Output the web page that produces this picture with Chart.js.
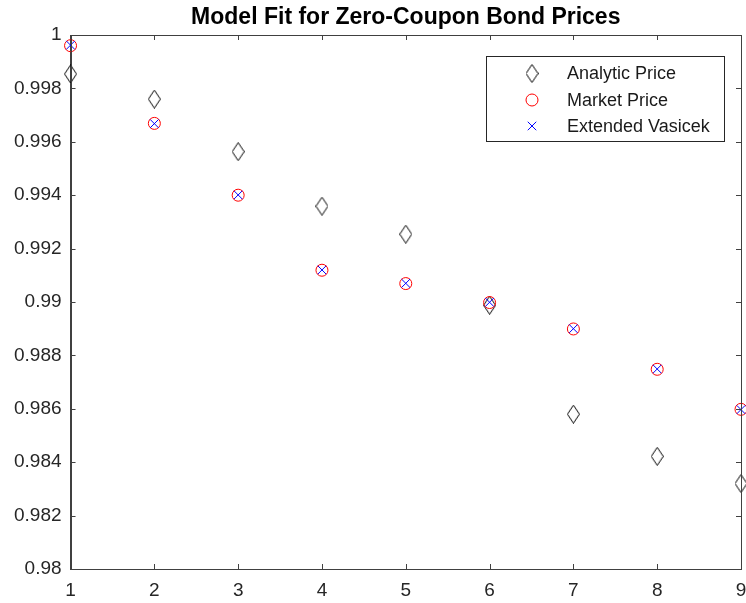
<!DOCTYPE html>
<html>
<head>
<meta charset="utf-8">
<script src="https://cdn.jsdelivr.net/npm/chart.js@4/dist/chart.umd.min.js"></script>
<style>
  html, body { margin: 0; padding: 0; background: #fff; overflow: hidden; }
  /* la figure d'origine est rognée à droite : le "9" et les derniers marqueurs sont coupés */
  #wrap { width: 746px; height: 603px; overflow: hidden; }
</style>
</head>
<body>
<div id="wrap"><canvas id="bondChart" width="751" height="603"></canvas></div>
<script>
// Maturités (années) et prix
const maturities = [1, 2, 3, 4, 5, 6, 7, 8, 9];
const analyticPrice = [0.99854, 0.99760, 0.99563, 0.99359, 0.99254, 0.98988, 0.98580, 0.98422, 0.98320];
const marketPrice = [0.99960, 0.99669, 0.99400, 0.99119, 0.99069, 0.98998, 0.98899, 0.98748, 0.98598];
const extendedVasicek = [0.99962, 0.99668, 0.99401, 0.99120, 0.99070, 0.98999, 0.98900, 0.98749, 0.98597];
const yTicks = [0.98, 0.982, 0.984, 0.986, 0.988, 0.99, 0.992, 0.994, 0.996, 0.998, 1];

const AXIS_COLOR = '#404040';
const FONT = "'Liberation Sans', Arial, sans-serif";

// Losange façon MATLAB (plus haut que large)
function makeDiamond() {
  const c = document.createElement('canvas');
  c.width = 13;
  c.height = 19;
  const g = c.getContext('2d');
  g.strokeStyle = '#000';
  g.lineWidth = 1;
  g.beginPath();
  g.moveTo(6.5, 0.5);
  g.lineTo(12.5, 9.5);
  g.lineTo(6.5, 18.5);
  g.lineTo(0.5, 9.5);
  g.closePath();
  g.stroke();
  return c;
}
const diamond = makeDiamond();

const toPoints = values => maturities.map((m, i) => ({ x: m, y: values[i] }));

// Petits traits de graduation vers l'intérieur + cadre complet
const boxTicks = {
  id: 'boxTicks',
  afterDraw(chart) {
    const { ctx, chartArea: a, scales } = chart;
    ctx.save();
    ctx.strokeStyle = AXIS_COLOR;
    ctx.lineWidth = 1;
    ctx.strokeRect(Math.round(a.left) + 0.5, Math.round(a.top) + 0.5,
      Math.round(a.right - a.left), Math.round(a.bottom - a.top));
    const len = 5;
    ctx.beginPath();
    scales.x.ticks.forEach(t => {
      const px = Math.round(scales.x.getPixelForValue(t.value)) + 0.5;
      ctx.moveTo(px, a.bottom); ctx.lineTo(px, a.bottom - len);
      ctx.moveTo(px, a.top); ctx.lineTo(px, a.top + len);
    });
    scales.y.ticks.forEach(t => {
      const py = Math.round(scales.y.getPixelForValue(t.value)) + 0.5;
      ctx.moveTo(a.left, py); ctx.lineTo(a.left + len, py);
      ctx.moveTo(a.right, py); ctx.lineTo(a.right - len, py);
    });
    ctx.stroke();
    ctx.restore();
  }
};

// Légende encadrée dans la zone du graphique (coin haut droit)
const boxLegend = {
  id: 'boxLegend',
  afterDraw(chart) {
    const { ctx, chartArea: a } = chart;
    const w = 238, h = 85;
    const left = a.right - 17 - w;
    const top = a.top + 21;
    ctx.save();
    ctx.fillStyle = '#fff';
    ctx.fillRect(left, top, w, h);
    ctx.strokeStyle = '#262626';
    ctx.lineWidth = 1;
    ctx.strokeRect(Math.round(left) + 0.5, Math.round(top) + 0.5, w, h);
    const rows = [17.5, 44, 70];
    ctx.font = '18px ' + FONT;
    ctx.textBaseline = 'middle';
    chart.data.datasets.forEach((ds, i) => {
      const y = top + rows[i];
      ctx.strokeStyle = ds.borderColor;
      ctx.fillStyle = 'rgba(0,0,0,0)';
      ctx.lineWidth = ds.borderWidth;
      Chart.helpers.drawPoint(ctx, {
        pointStyle: ds.pointStyle,
        radius: ds.pointRadius,
        borderWidth: ds.borderWidth,
        rotation: 0
      }, left + 46, y);
      ctx.fillStyle = '#1a1a1a';
      ctx.fillText(ds.label, left + 81, y + 1);
    });
    ctx.restore();
  }
};

const ctx = document.getElementById('bondChart').getContext('2d');

new Chart(ctx, {
  type: 'scatter',
  data: {
    datasets: [
      {
        label: 'Analytic Price',
        data: toPoints(analyticPrice),
        pointStyle: diamond,
        pointRadius: 9,
        borderColor: '#000',
        backgroundColor: 'rgba(0,0,0,0)',
        borderWidth: 1,
        order: 3,
        clip: false
      },
      {
        label: 'Market Price',
        data: toPoints(marketPrice),
        pointStyle: 'circle',
        pointRadius: 6,
        borderColor: '#ff0000',
        backgroundColor: 'rgba(0,0,0,0)',
        borderWidth: 1,
        order: 2,
        clip: false
      },
      {
        label: 'Extended Vasicek',
        data: toPoints(extendedVasicek),
        pointStyle: 'crossRot',
        pointRadius: 6,
        borderColor: '#0000ff',
        backgroundColor: 'rgba(0,0,0,0)',
        borderWidth: 1,
        order: 1,
        clip: false
      }
    ]
  },
  options: {
    responsive: false,
    animation: false,
    events: [],
    layout: { padding: { left: 5, bottom: 3, top: 0, right: 0 } },
    plugins: {
      legend: { display: false },
      tooltip: { enabled: false },
      title: {
        display: true,
        fullSize: false,
        text: 'Model Fit for Zero-Coupon Bond Prices',
        color: '#000',
        font: { family: FONT, size: 23, weight: 'bold', lineHeight: 1.2 },
        padding: { top: 4, bottom: 3.4 }
      }
    },
    scales: {
      x: {
        type: 'linear',
        min: 1,
        max: 9,
        afterBuildTicks: scale => { scale.ticks = maturities.map(v => ({ value: v })); },
        // graduations transparentes : elles ne servent qu'à décaler les libellés
        grid: { display: true, drawOnChartArea: false, drawTicks: true, tickLength: 12, color: 'rgba(0,0,0,0)' },
        border: { display: true, color: AXIS_COLOR, width: 1 },
        ticks: {
          color: '#262626',
          padding: 0,
          font: { family: FONT, size: 19, lineHeight: 1 },
          callback: v => String(v)
        }
      },
      y: {
        type: 'linear',
        min: 0.98,
        max: 1,
        afterBuildTicks: scale => { scale.ticks = yTicks.map(v => ({ value: v })); },
        grid: { display: false, drawTicks: false },
        border: { display: true, color: AXIS_COLOR, width: 1 },
        ticks: {
          color: '#262626',
          padding: 9,
          font: { family: FONT, size: 19, lineHeight: 1 },
          callback: v => String(parseFloat(Number(v).toFixed(4)))
        }
      }
    }
  },
  plugins: [boxTicks, boxLegend]
});
</script>
</body>
</html>
